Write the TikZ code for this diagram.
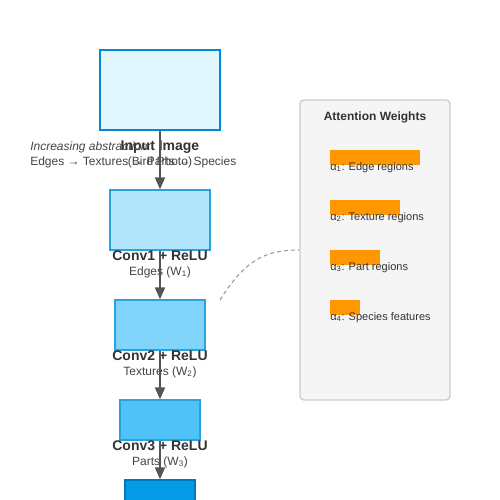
\documentclass[tikz,border=0pt]{standalone}
\usepackage{fontspec}
\setmainfont{Liberation Sans}
\usetikzlibrary{arrows.meta}

\definecolor{inputfill}{HTML}{E1F5FE}
\definecolor{inputdraw}{HTML}{0288D1}
\definecolor{convafill}{HTML}{B3E5FC}
\definecolor{convbfill}{HTML}{81D4FA}
\definecolor{convcfill}{HTML}{4FC3F7}
\definecolor{convdfill}{HTML}{039BE5}
\definecolor{convdraw}{HTML}{29A3DD}
\definecolor{convddraw}{HTML}{0277BD}
\definecolor{flowgray}{HTML}{555555}
\definecolor{textdark}{HTML}{333333}
\definecolor{textmid}{HTML}{444444}
\definecolor{panelfill}{HTML}{F5F5F5}
\definecolor{paneldraw}{HTML}{CCCCCC}
\definecolor{barfill}{HTML}{FF9800}

\tikzset{
  layerbox/.style={draw=convdraw, line width=1pt, inner sep=0pt},
  title/.style={font=\bfseries\fontsize{10.5pt}{12pt}\selectfont, text=textdark, anchor=base, inner sep=0pt},
  subtitle/.style={font=\fontsize{9pt}{11pt}\selectfont, text=textmid, anchor=base, inner sep=0pt},
  flow/.style={draw=flowgray, line width=1.5pt, -{Triangle[length=9pt,width=7.5pt]}},
  weightbar/.style={fill=barfill, inner sep=0pt, anchor=north west, minimum height=11.25pt},
  weightlabel/.style={font=\fontsize{8.25pt}{10pt}\selectfont, text=textdark, anchor=base west, inner sep=0pt}
}

\begin{document}
\begin{tikzpicture}[x=0.75pt,y=-0.75pt]
\useasboundingbox (0,0) rectangle (500,500);
\clip (0,0) rectangle (500,500);

% layers
\node [layerbox, draw=inputdraw, line width=1.5pt, fill=inputfill, minimum width=90pt, minimum height=60pt] (inimg) at (160,90) {};
\node [layerbox, fill=convafill, minimum width=75pt, minimum height=45pt] (conv1) at (160,220) {};
\node [layerbox, fill=convbfill, minimum width=67.5pt, minimum height=37.5pt] (conv2) at (160,325) {};
\node [layerbox, fill=convcfill, minimum width=60pt, minimum height=30pt] (conv3) at (160,420) {};
\node [layerbox, draw=convddraw, fill=convdfill, minimum width=52.5pt, minimum height=30pt] (conv4) at (160,500) {};

% labels
\node [title] (inimgname) at (160,150) {Input Image};
\node [subtitle] (inimgsub) at (160,165) {(Bird Photo)};
\node [title] (conv1name) at (160,260) {Conv1 + ReLU};
\node [subtitle] (conv1sub) at (160,275) {Edges (W\textsubscript{1})};
\node [title] (conv2name) at (160,360) {Conv2 + ReLU};
\node [subtitle] (conv2sub) at (160,375) {Textures (W\textsubscript{2})};
\node [title] (conv3name) at (160,450) {Conv3 + ReLU};
\node [subtitle] (conv3sub) at (160,465) {Parts (W\textsubscript{3})};

\node [subtitle, anchor=base west, font=\itshape\fontsize{9pt}{11pt}\selectfont] (abstr) at (30,150) {Increasing abstraction:};
\node [subtitle, anchor=base west] (abstrchain) at (30,165) {Edges → Textures → Parts → Species};

% attention panel
\node [draw=paneldraw, line width=1pt, fill=panelfill, rounded corners=3pt, minimum width=112.5pt, minimum height=225pt, inner sep=0pt] (panel) at (375,250) {};
\node [title, font=\bfseries\fontsize{9pt}{11pt}\selectfont] (paneltitle) at (375,120) {Attention Weights};

\node [weightbar, minimum width=67.5pt] (bar1) at (330,150) {};
\node [weightbar, minimum width=52.5pt] (bar2) at (330,200) {};
\node [weightbar, minimum width=37.5pt] (bar3) at (330,250) {};
\node [weightbar, minimum width=22.5pt] (bar4) at (330,300) {};
\node [weightlabel] (alpha1) at (330,170) {α\textsubscript{1}: Edge regions};
\node [weightlabel] (alpha2) at (330,220) {α\textsubscript{2}: Texture regions};
\node [weightlabel] (alpha3) at (330,270) {α\textsubscript{3}: Part regions};
\node [weightlabel] (alpha4) at (330,320) {α\textsubscript{4}: Species features};

% connectors
\draw [flow] (inimg.south) -- (conv1.north);
\draw [flow] (conv1.south) -- (conv2.north);
\draw [flow] (conv2.south) -- (conv3.north);
\draw [flow] (conv3.south) -- (conv4.north);

\coordinate (attnfrom) at (220,300);
\draw [draw=gray!80, line width=0.8pt, dash pattern=on 3pt off 2.25pt] (attnfrom) .. controls (245,260) and (265,250) .. (panel.west);
\end{tikzpicture}
\end{document}
